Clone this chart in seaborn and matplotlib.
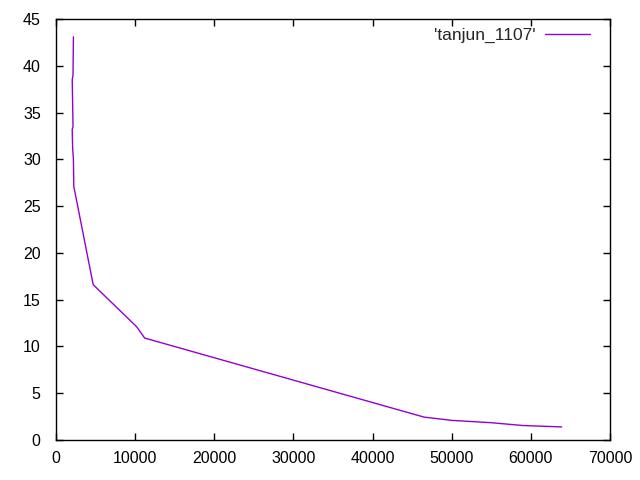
import matplotlib
matplotlib.use("Agg")
import matplotlib.pyplot as plt
import seaborn as sns
import pandas as pd

# values
x_vals = [2200, 2150, 2050, 2150, 2050, 2100, 2200, 2250, 4700, 10200, 11200,
          46500, 50000, 55000, 59000, 63900]
y_vals = [43.1, 39.0, 38.5, 33.5, 33.2, 31.3, 30.0, 27.1, 16.6, 12.1, 10.9,
          2.45, 2.1, 1.85, 1.55, 1.40]
series_name = "'tanjun_1107'"
x_ticks = [0, 10000, 20000, 30000, 40000, 50000, 60000, 70000]
y_ticks = [0, 5, 10, 15, 20, 25, 30, 35, 40, 45]

df = pd.DataFrame({"x": x_vals, "y": y_vals})

sns.set_style("ticks")
plt.rcParams["font.family"] = ["Liberation Sans", "DejaVu Sans"]

fig = plt.figure(figsize=(6.4, 4.8), dpi=100)
ax = fig.add_axes([0.0875, 0.0833, 0.8656, 0.8771])

sns.lineplot(
    data=df,
    x="x",
    y="y",
    sort=False,
    estimator=None,
    color="#9400d3",
    linewidth=1.0,
    label=series_name,
    ax=ax
)

ax.set_xlim(0, 70000)
ax.set_ylim(0, 45)
ax.set_xticks(x_ticks)
ax.set_yticks(y_ticks)
ax.tick_params(direction="in", top=True, right=True, length=5, width=1,
               labelsize=11.5, colors="black")
ax.tick_params(axis="x", pad=8)
ax.tick_params(axis="y", pad=11)
for s in ax.spines.values():
    s.set_visible(True)
    s.set_linewidth(1.0)
    s.set_color("black")
ax.set_xlabel("")
ax.set_ylabel("")

ax.legend(loc="upper right", bbox_to_anchor=(0.964, 0.98), frameon=False,
          markerfirst=False, fontsize=12.5, handlelength=2.6,
          handletextpad=0.55, borderpad=0, borderaxespad=0)

fig.savefig("out.png", dpi=100)
